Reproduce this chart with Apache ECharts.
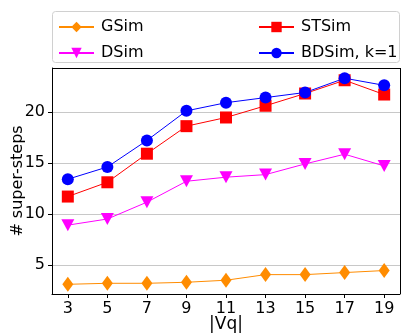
<!DOCTYPE html>
<html><head><meta charset="utf-8">
<script src="https://cdn.jsdelivr.net/npm/echarts@6/dist/echarts.min.js"></script>
<style>html,body{margin:0;padding:0;background:#fff}#c{width:401px;height:333px}</style>
</head><body><div id="c"></div>
<script>
const xValues = [3, 5, 7, 9, 11, 13, 15, 17, 19];
const xTicks = [3, 5, 7, 9, 11, 13, 15, 17, 19];
const yTicks = [5, 10, 15, 20];
const gsim = [3.1, 3.2, 3.2, 3.3, 3.5, 4.05, 4.05, 4.25, 4.45];
const dsim = [8.9, 9.5, 11.15, 13.2, 13.6, 13.85, 14.9, 15.85, 14.7];
const stsim = [11.7, 13.1, 15.9, 18.6, 19.45, 20.6, 21.8, 23.1, 21.7];
const bdsim = [13.4, 14.6, 17.2, 20.1, 20.9, 21.4, 21.9, 23.3, 22.6];

const F = 'DejaVu Sans';
const pair = arr => xValues.map((x, i) => [x, arr[i]]);
const mk = (name, data, color, symbol, size) => ({
  name, type: 'line', data: pair(data), symbol, symbolSize: size,
  lineStyle: { color, width: 1 }, itemStyle: { color }, showSymbol: true,
  emphasis: { disabled: true }, animation: false
});
const legendBase = { orient: 'vertical', padding: 0, top: 19, itemWidth: 35, itemHeight: 13, itemGap: 10,
  textStyle: { fontFamily: F, fontSize: 16, color: '#000', padding: [0, 0, 0, 2] } };
const chart = echarts.init(document.getElementById('c'));
chart.setOption({
  animation: false,
  graphic: [{ type: 'rect', shape: { x: 52.5, y: 11.5, width: 347, height: 51, r: 3 },
    style: { fill: '#fff', stroke: '#d0d0d0', lineWidth: 1 }, z: -1 }],
  legend: [
    Object.assign({}, legendBase, { data: ['GSim', 'DSim'], left: 58 }),
    Object.assign({}, legendBase, { data: ['STSim', 'BDSim, k=1'], left: 258 })
  ],
  grid: { left: 52, right: 1, top: 68, bottom: 39, containLabel: false, outerBoundsMode: 'none' },
  xAxis: {
    type: 'value', min: 2.2, max: 19.8, name: '|Vq|', nameLocation: 'middle', nameGap: 22, nameMoveOverlap: false,
    nameTextStyle: { fontFamily: F, fontSize: 17, color: '#000' },
    axisLine: { onZero: false, lineStyle: { color: '#000', width: 1 } },
    axisTick: { show: true, customValues: xTicks, length: 4, lineStyle: { color: '#000' } },
    axisLabel: { customValues: xTicks, fontFamily: F, fontSize: 16, color: '#000', margin: 7 },
    splitLine: { show: false }
  },
  yAxis: {
    type: 'value', min: 2.15, max: 24.3, name: '# super-steps', nameLocation: 'middle', nameGap: 26, nameMoveOverlap: false,
    nameTextStyle: { fontFamily: F, fontSize: 16, color: '#000' },
    axisLine: { show: true, onZero: false, lineStyle: { color: '#000', width: 1 } },
    axisTick: { show: true, customValues: yTicks, length: 4, lineStyle: { color: '#000' } },
    axisLabel: { customValues: yTicks, fontFamily: F, fontSize: 16, color: '#000', margin: 7 },
    splitLine: { show: true, lineStyle: { color: '#c8c8c8', width: 1.2 } }
  },
  series: [
    mk('GSim', gsim, '#ff8c00', 'diamond', [11, 15]),
    mk('DSim', dsim, '#ff00ff', 'path://M0,0 L10,0 L5,10 Z', [13, 12]),
    mk('STSim', stsim, '#ff0000', 'rect', [12, 12]),
    mk('BDSim, k=1', bdsim, '#0000ff', 'circle', 12),
    { type: 'line', data: [], markLine: { silent: true, symbol: 'none', label: { show: false },
        lineStyle: { color: '#000', width: 1, type: 'solid' },
        data: [[{ coord: [2.2, 24.3] }, { coord: [19.8, 24.3] }], [{ coord: [19.8, 2.15] }, { coord: [19.8, 24.3] }]] } }
  ]
});
</script></body></html>
